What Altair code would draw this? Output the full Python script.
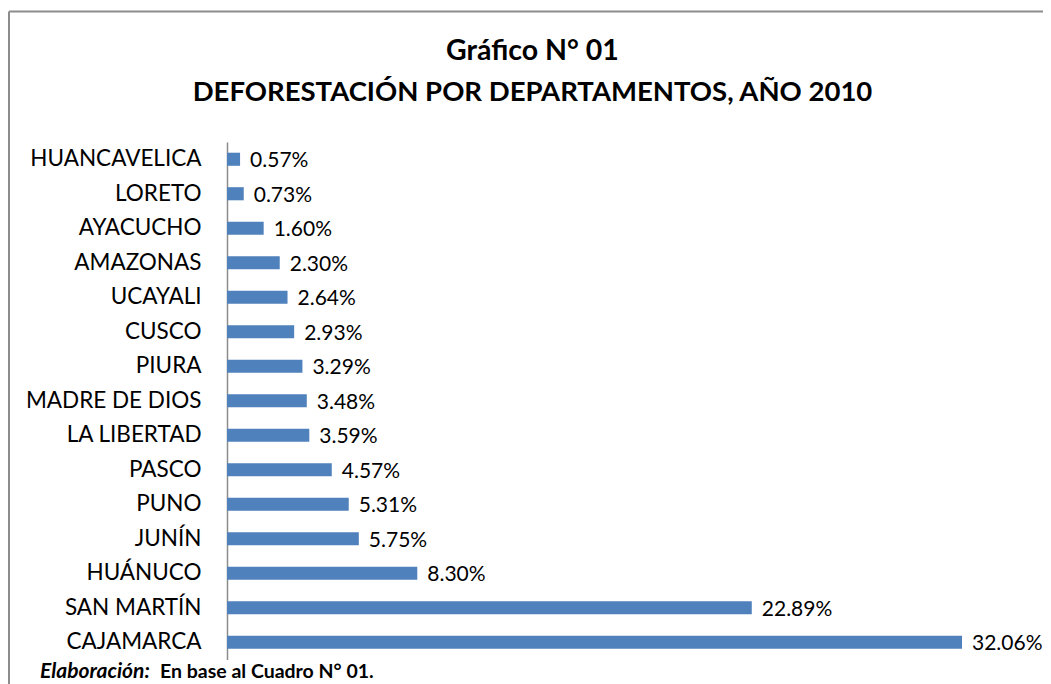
import altair as alt
import pandas as pd

departamentos = ["HUANCAVELICA", "LORETO", "AYACUCHO", "AMAZONAS", "UCAYALI", "CUSCO",
                 "PIURA", "MADRE DE DIOS", "LA LIBERTAD", "PASCO", "PUNO", "JUNÍN",
                 "HUÁNUCO", "SAN MARTÍN", "CAJAMARCA"]
porcentajes = [0.57, 0.73, 1.60, 2.30, 2.64, 2.93, 3.29, 3.48, 3.59, 4.57, 5.31, 5.75,
               8.30, 22.89, 32.06]

titulo_1 = "Gráfico N° 01"
titulo_2 = "DEFORESTACIÓN POR DEPARTAMENTOS, AÑO 2010"
nota_a = "Elaboración:"
nota_b = "En base al Cuadro N° 01."

df = pd.DataFrame({"dep": departamentos, "v": porcentajes})

FONT = "Lato"
W, H = 735, 517.5

y_enc = alt.Y("dep:N", sort=departamentos, title=None,
              scale=alt.Scale(paddingInner=0.62, paddingOuter=0.31),
              axis=alt.Axis(ticks=False, labelFont=FONT, labelFontSize=22.5,
                            labelColor="#000000", labelPadding=26,
                            domainColor="#8c8c8c", domainWidth=1.5, grid=False))
x_enc = alt.X("v:Q", title=None, scale=alt.Scale(domain=[0, 32.06], nice=False),
              axis=None)

base = alt.Chart(df)

bars = base.mark_bar(color="#4F81BD").encode(x=x_enc, y=y_enc)

labels = base.transform_calculate(
    lab="format(datum.v, '.2f') + '%'"
).mark_text(align="left", baseline="middle", dx=10, dy=2, font=FONT,
            fontSize=21, color="#000000").encode(x=x_enc, y=y_enc, text="lab:N")


def txt(s, x, y, size, weight="bold", style="normal", align="left"):
    return alt.Chart(pd.DataFrame({"t": [s]})).mark_text(
        align=align, baseline="middle", font=FONT, fontSize=size, fontWeight=weight,
        fontStyle=style, color="#000000"
    ).encode(x=alt.value(x), y=alt.value(y), text="t:N")


t1 = txt(titulo_1, 305.5, -91, 28.5, align="center")
t2 = txt(titulo_2, 305.5, -49, 27.5, align="center")
note1 = txt(nota_a, -187, 530, 21, style="italic")
note2 = txt(nota_b, -67, 530, 19.5)

border_left = alt.Chart(pd.DataFrame({"a": [0]})).mark_rule(
    color="#8c8c8c", strokeWidth=2
).encode(x=alt.value(-218), y=alt.value(-130.5), y2=alt.value(700))

border_top = alt.Chart(pd.DataFrame({"a": [0]})).mark_rule(
    color="#8c8c8c", strokeWidth=2
).encode(x=alt.value(-218), x2=alt.value(900), y=alt.value(-130.5))

chart = alt.layer(border_left, border_top, bars, labels, t1, t2, note1, note2).properties(
    width=W, height=H,
    autosize=alt.AutoSizeParams(type="none"),
    padding={"left": 219, "top": 134, "right": 81, "bottom": 24.5},
).configure(background="white").configure_view(strokeOpacity=0, strokeWidth=0)

chart.save("out.html", embed_options={"renderer": "svg", "actions": False})
